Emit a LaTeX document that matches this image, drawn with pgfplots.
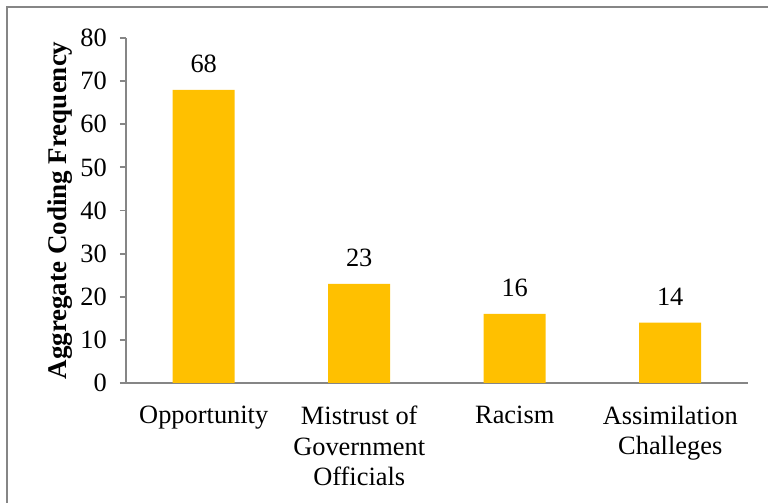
\documentclass[border=0pt]{standalone}
\usepackage{fontspec}
\setmainfont{Liberation Serif}
\usepackage{pgfplots}
\pgfplotsset{compat=1.18}
\definecolor{bargold}{HTML}{FFC000}
\definecolor{axgray}{HTML}{868686}
\begin{document}
\fontsize{13.2}{15.2}\selectfont
\begin{tikzpicture}[x=0.5pt,y=0.5pt]
\useasboundingbox (0,0) rectangle (768,503);
\draw[axgray, line width=1.2pt] (7,0) -- (7,496) -- (768,496);
\begin{axis}[
  at={(63pt,60pt)}, anchor=south west,
  scale only axis, width=311pt, height=172.5pt,
  xmin=-0.5, xmax=3.5, ymin=0, ymax=80,
  axis lines=left, axis line style={axgray, line width=0.9pt, -},
  ybar, bar width=31pt,
  ytick={0,10,...,80},
  xtick={0,1,2,3},
  xticklabels={Opportunity, {Mistrust of\\Government\\Officials}, Racism, {Assimilation\\Challeges}},
  x tick label style={align=center, font=\fontsize{13.2}{15.2}\selectfont, yshift=-4pt},
  y tick label style={font=\fontsize{13.2}{15.2}\selectfont, xshift=-2pt},
  major x tick style={draw=none},
  extra x ticks={-0.5,0.5,1.5,2.5,3.5},
  extra x tick labels={},
  extra x tick style={tick style={axgray, line width=0.9pt}, major tick length=3pt, tick align=outside},
  y tick style={axgray, line width=0.9pt},
  major tick length=3pt, tick align=outside,
  ylabel={\textbf{Aggregate Coding Frequency}},
  ylabel style={font=\fontsize{13.5}{15.5}\selectfont},
  every axis y label/.append style={at={(ticklabel cs:0.5)}, yshift=-5pt},
  /pgf/number format/assume math mode=true,
  nodes near coords,
  nodes near coords style={font=\fontsize{13.2}{15.2}\selectfont, inner sep=0pt, yshift=8.5pt, anchor=south},
  clip=false,
]
\addplot[fill=bargold, draw=none] coordinates {(0,68) (1,23) (2,16) (3,14)};
\end{axis}
\end{tikzpicture}
\end{document}
